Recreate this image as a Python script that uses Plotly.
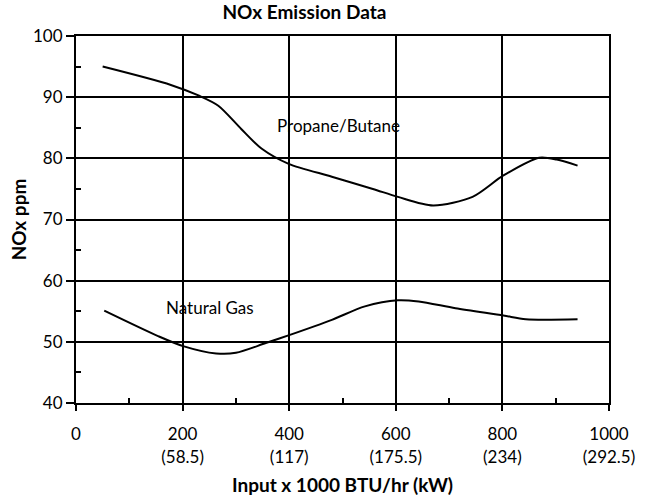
import plotly.graph_objects as go

# Propane/Butane curve (input x1000 BTU/hr, NOx ppm)
propane_x = [50, 178, 232, 267, 310, 348, 399, 480, 557, 604, 670, 744, 802, 869, 902, 941]
propane_y = [95.0, 92.0, 90.2, 88.6, 84.8, 81.6, 79.1, 77.0, 75.0, 73.7, 72.3, 73.7, 77.2, 80.1, 79.8, 78.8]

# Natural gas curve
natgas_x = [53, 155, 201, 263, 300, 356, 400, 480, 542, 604, 643, 712, 802, 844, 941]
natgas_y = [55.1, 50.9, 49.3, 48.1, 48.2, 49.8, 51.1, 53.6, 55.8, 56.8, 56.6, 55.5, 54.3, 53.7, 53.7]

x_ticks = [0, 200, 400, 600, 800, 1000]
x_tick_labels = ["0", "200<br>(58.5)", "400<br>(117)", "600<br>(175.5)", "800<br>(234)", "1000<br>(292.5)"]
y_ticks = [40, 50, 60, 70, 80, 90, 100]

font_name = "Lato"

fig = go.Figure()
fig.add_trace(go.Scatter(x=propane_x, y=propane_y, mode="lines", name="Propane/Butane",
                         line=dict(color="black", width=2, shape="spline", smoothing=0.8)))
fig.add_trace(go.Scatter(x=natgas_x, y=natgas_y, mode="lines", name="Natural Gas",
                         line=dict(color="black", width=2, shape="spline", smoothing=0.8)))

# curve labels
fig.add_annotation(x=492, y=85.3, text="Propane/Butane", showarrow=False,
                   font=dict(family=font_name, size=17, color="black"))
fig.add_annotation(x=251, y=55.6, text="Natural Gas", showarrow=False,
                   font=dict(family=font_name, size=17, color="black"))

fig.update_layout(
    width=645, height=501,
    margin=dict(l=76, r=36, t=36, b=98, autoexpand=False),
    paper_bgcolor="white", plot_bgcolor="white",
    showlegend=False,
    title=dict(text="<b>NOx Emission Data</b>", x=0.472, xanchor="center", y=0.976, yanchor="middle",
               font=dict(family=font_name, size=19, color="black")),
    font=dict(family=font_name, color="black"),
)
fig.update_xaxes(
    range=[0, 1000], tickvals=x_ticks, ticktext=x_tick_labels,
    showgrid=True, gridcolor="black", gridwidth=2,
    showline=True, linecolor="black", linewidth=2, mirror=True,
    ticks="outside", ticklen=6, tickwidth=2, tickcolor="black",
    ticklabelstandoff=9,
    tickfont=dict(family=font_name, size=17, color="black"),
    minor=dict(tickvals=[100, 300, 500, 700, 900], ticks="inside", ticklen=5, tickwidth=2,
               tickcolor="black", showgrid=False),
    zeroline=False,
    title=dict(text="<b>Input x 1000 BTU/hr (kW)</b>", standoff=13,
               font=dict(family=font_name, size=19, color="black")),
)
fig.update_yaxes(
    range=[40, 100], tickvals=y_ticks,
    showgrid=True, gridcolor="black", gridwidth=2,
    showline=True, linecolor="black", linewidth=2, mirror=True,
    ticks="outside", ticklen=8, tickwidth=2, tickcolor="black",
    tickfont=dict(family=font_name, size=17, color="black"),
    minor=dict(tickvals=[45, 55, 65, 75, 85, 95], ticks="inside", ticklen=5, tickwidth=2,
               tickcolor="black", showgrid=False),
    zeroline=False,
    title=dict(text="<b>NOx ppm</b>", standoff=1,
               font=dict(family=font_name, size=19, color="black")),
)

# page body has a default 8px margin; drop it so the figure sits at the top-left
fig.write_html("out.html", config={"displayModeBar": False},
               post_script="document.body.style.margin='0';")
